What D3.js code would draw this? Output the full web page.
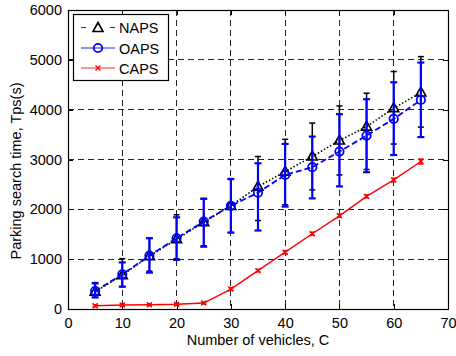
<!DOCTYPE html>
<html>
<head>
<meta charset="utf-8">
<script src="https://cdn.jsdelivr.net/npm/d3@7/dist/d3.min.js"></script>
<style>
  html, body { margin: 0; padding: 0; background: #fff; }
  svg { display: block; }
  text { font-family: "Liberation Sans", Arial, Helvetica, sans-serif; fill: #000; }
</style>
</head>
<body>
<svg id="chart" width="456" height="356"></svg>
<script>
// Number of vehicles
const vehicles = [5, 10, 15, 20, 25, 30, 35, 40, 45, 50, 55, 60, 65];

// NAPS: mean search time with lower / upper error bounds
const napsMean  = [345, 680, 1060, 1400, 1740, 2070, 2455, 2757, 3060, 3380, 3660, 4030, 4345];
const napsLow   = [230, 445, 760, 1010, 1270, 1540, 1775, 2090, 2390, 2690, 2800, 3310, 3650];
const napsHigh  = [530, 1010, 1420, 1890, 2220, 2600, 3060, 3405, 3730, 4075, 4330, 4765, 5065];

// OAPS
const oapsMean  = [360, 695, 1070, 1420, 1755, 2070, 2335, 2690, 2845, 3160, 3480, 3815, 4195];
const oapsLow   = [235, 450, 730, 985, 1250, 1530, 1575, 2055, 2220, 2460, 2745, 3090, 3450];
const oapsHigh  = [515, 935, 1420, 1840, 2210, 2610, 2925, 3313, 3460, 3910, 4210, 4550, 4945];

// CAPS
const capsMean  = [65, 80, 85, 95, 120, 400, 770, 1140, 1510, 1870, 2260, 2590, 2960];
const capsLow   = [45, 60, 65, 75, 100, 375, 745, 1110, 1480, 1840, 2230, 2555, 2910];
const capsHigh  = [85, 100, 105, 115, 140, 425, 795, 1170, 1540, 1900, 2290, 2625, 3010];

const xTicks = [0, 10, 20, 30, 40, 50, 60, 70];
const yTicks = [0, 1000, 2000, 3000, 4000, 5000, 6000];
const seriesNames = ["NAPS", "OAPS", "CAPS"];

const svg = d3.select("#chart");
const plotL = 68, plotR = 448, plotT = 10, plotB = 309;

const x = d3.scaleLinear().domain([0, 70]).range([plotL, plotR]);
const y = d3.scaleLinear().domain([0, 6000]).range([plotB, plotT]);

// Plot background
svg.append("rect").attr("x", plotL).attr("y", plotT)
  .attr("width", plotR - plotL).attr("height", plotB - plotT).attr("fill", "#fff");

// Dashed grid
const grid = svg.append("g");
grid.selectAll("line.vg").data(xTicks.slice(1, -1)).join("line")
  .attr("x1", d => x(d)).attr("x2", d => x(d))
  .attr("y1", plotT).attr("y2", plotB)
  .attr("stroke", "#222").attr("stroke-width", 1).attr("stroke-dasharray", "6,4")
  .attr("shape-rendering", "crispEdges");
grid.selectAll("line.hg").data(yTicks.slice(1, -1)).join("line")
  .attr("y1", d => y(d)).attr("y2", d => y(d))
  .attr("x1", plotL).attr("x2", plotR)
  .attr("stroke", "#222").attr("stroke-width", 1).attr("stroke-dasharray", "6,4")
  .attr("shape-rendering", "crispEdges");

// Axes with inward ticks on all four sides
function styleAxis(g) {
  g.selectAll(".domain").remove();
  g.selectAll(".tick line").attr("stroke", "#000").attr("shape-rendering", "crispEdges");
  g.selectAll(".tick text").style("font-size", "14.5px")
    .style("font-family", "'Liberation Sans', Arial, sans-serif");
}
const xAxis = svg.append("g").attr("transform", `translate(0,${plotB})`)
  .call(d3.axisBottom(x).tickValues(xTicks).tickSize(-5).tickPadding(9).tickFormat(d3.format("d")));
styleAxis(xAxis);
const yAxis = svg.append("g").attr("transform", `translate(${plotL},0)`)
  .call(d3.axisLeft(y).tickValues(yTicks).tickSize(-5).tickPadding(6).tickFormat(d3.format("d")));
styleAxis(yAxis);
const xTop = svg.append("g").attr("transform", `translate(0,${plotT})`)
  .call(d3.axisTop(x).tickValues(xTicks).tickSize(-5).tickFormat(""));
styleAxis(xTop);
const yRight = svg.append("g").attr("transform", `translate(${plotR},0)`)
  .call(d3.axisRight(y).tickValues(yTicks).tickSize(-5).tickFormat(""));
styleAxis(yRight);

// Box
svg.append("rect").attr("x", plotL + 0.5).attr("y", plotT + 0.5)
  .attr("width", plotR - plotL).attr("height", plotB - plotT)
  .attr("fill", "none").attr("stroke", "#000").attr("stroke-width", 1.2);

// Error bars, line and markers for one series
function drawSeries(mean, low, high, opt) {
  const g = svg.append("g");
  const pts = vehicles.map((v, i) => ({ v, m: mean[i], lo: low[i], hi: high[i] }));
  const eb = g.append("g").attr("stroke", opt.barColor).attr("stroke-width", opt.barWidth);
  eb.selectAll("line.v").data(pts).join("line")
    .attr("x1", d => x(d.v)).attr("x2", d => x(d.v))
    .attr("y1", d => y(d.lo)).attr("y2", d => y(d.hi));
  eb.selectAll("line.lo").data(pts).join("line")
    .attr("x1", d => x(d.v) - opt.cap).attr("x2", d => x(d.v) + opt.cap)
    .attr("y1", d => y(d.lo)).attr("y2", d => y(d.lo));
  eb.selectAll("line.hi").data(pts).join("line")
    .attr("x1", d => x(d.v) - opt.cap).attr("x2", d => x(d.v) + opt.cap)
    .attr("y1", d => y(d.hi)).attr("y2", d => y(d.hi));
  const line = d3.line().x(d => x(d.v)).y(d => y(d.m));
  g.append("path").datum(pts).attr("d", line)
    .attr("fill", "none").attr("stroke", opt.lineColor)
    .attr("stroke-width", opt.lineWidth)
    .attr("stroke-dasharray", opt.dash || null);
  const mk = g.append("g");
  pts.forEach(d => opt.marker(mk, x(d.v), y(d.m)));
}

function triangle(g, cx, cy, color) {
  g.append("path")
    .attr("d", `M${cx},${cy - 5.5}L${cx + 5},${cy + 3.5}L${cx - 5},${cy + 3.5}Z`)
    .attr("fill", "none").attr("stroke", color || "#000").attr("stroke-width", 1.6);
}
function circle(g, cx, cy) {
  g.append("circle").attr("cx", cx).attr("cy", cy).attr("r", 4.2)
    .attr("fill", "none").attr("stroke", "#0000ff").attr("stroke-width", 1.8);
}
function cross(g, cx, cy) {
  g.append("path")
    .attr("d", `M${cx - 2.5},${cy - 2.5}L${cx + 2.5},${cy + 2.5}M${cx - 2.5},${cy + 2.5}L${cx + 2.5},${cy - 2.5}`)
    .attr("stroke", "#ff0000").attr("stroke-width", 1.4);
}

drawSeries(napsMean, napsLow, napsHigh, {
  barColor: "#000", barWidth: 1.5, cap: 3, lineColor: "#000", lineWidth: 1.6,
  dash: "1.5,2", marker: triangle
});
drawSeries(oapsMean, oapsLow, oapsHigh, {
  barColor: "#0000ff", barWidth: 2.2, cap: 3.5, lineColor: "#0000ff", lineWidth: 1.8,
  dash: "6,3", marker: circle
});
drawSeries(capsMean, capsLow, capsHigh, {
  barColor: "#ff0000", barWidth: 1.4, cap: 2.5, lineColor: "#ff0000", lineWidth: 1.4,
  dash: null, marker: cross
});

// Axis titles
svg.append("text").attr("x", (plotL + plotR) / 2).attr("y", 345)
  .attr("text-anchor", "middle").style("font-size", "14.5px")
  .text("Number of vehicles, C");
svg.append("text").attr("transform", "translate(21,171) rotate(-90)")
  .attr("text-anchor", "middle").style("font-size", "14.5px")
  .text("Parking search time, Tps(s)");

// Legend
const lg = svg.append("g");
lg.append("rect").attr("x", 73.5).attr("y", 14.5).attr("width", 95).attr("height", 66)
  .attr("fill", "#fff").attr("stroke", "#000").attr("stroke-width", 1.2);
const rows = [27.5, 48, 68];
const lx0 = 81, lx1 = 115, lmx = 98;
// NAPS
lg.append("line").attr("x1", lx0).attr("x2", lx0 + 5).attr("y1", rows[0]).attr("y2", rows[0])
  .attr("stroke", "#333").attr("stroke-width", 1);
lg.append("line").attr("x1", lx1 - 5).attr("x2", lx1).attr("y1", rows[0]).attr("y2", rows[0])
  .attr("stroke", "#333").attr("stroke-width", 1);
triangle(lg, lmx, rows[0] + 0.5, "#000");
// OAPS
lg.append("line").attr("x1", lx0).attr("x2", lx1).attr("y1", rows[1]).attr("y2", rows[1])
  .attr("stroke", "#6f6fff").attr("stroke-width", 1.4);
circle(lg, lmx, rows[1]);
// CAPS
lg.append("line").attr("x1", lx0).attr("x2", lx1).attr("y1", rows[2]).attr("y2", rows[2])
  .attr("stroke", "#ff7070").attr("stroke-width", 1.4);
cross(lg, lmx, rows[2]);
lg.selectAll("text.lbl").data(seriesNames).join("text")
  .attr("x", 119).attr("y", (d, i) => rows[i] + 5.5)
  .style("font-size", "14.5px").text(d => d);
</script>
</body>
</html>
